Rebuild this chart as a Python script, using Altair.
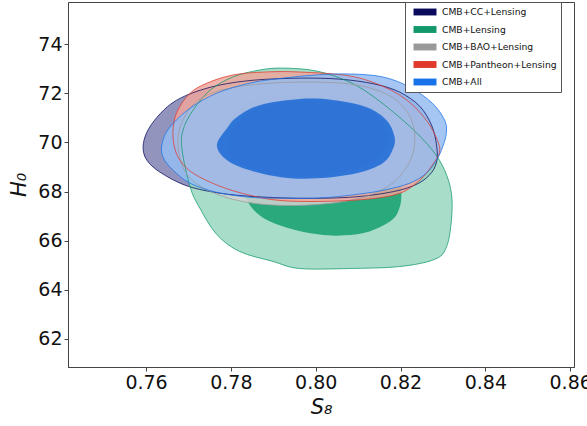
import altair as alt
import pandas as pd

# ---- contour vertices (S8, H0) for each data combination ----
cc_outer_s8 = [0.7593, 0.7602, 0.7626, 0.7661, 0.7708, 0.7774, 0.7856, 0.7962, 0.8056, 0.8139, 0.8198, 0.8245, 0.8273,
               0.8285, 0.8285, 0.8268, 0.8233, 0.8174, 0.8080, 0.7962, 0.7845, 0.7762, 0.7692, 0.7633, 0.7602]
cc_outer_h0 = [69.81, 70.42, 71.03, 71.60, 72.01, 72.34, 72.54, 72.62, 72.58, 72.38, 72.05, 71.48, 70.71,
               69.89, 69.20, 68.67, 68.26, 67.97, 67.77, 67.73, 67.81, 67.97, 68.26, 68.79, 69.28]
cc_inner_s8 = [0.7786, 0.7814, 0.7868, 0.7962, 0.8056, 0.8132, 0.8169, 0.8174, 0.8155, 0.8104, 0.8009, 0.7915, 0.7845, 0.7802]
cc_inner_h0 = [69.89, 70.91, 71.48, 71.73, 71.69, 71.32, 70.71, 70.01, 69.36, 68.87, 68.58, 68.58, 68.87, 69.28]

lens_outer_s8 = [0.7685, 0.7687, 0.7711, 0.7751, 0.7805, 0.7868, 0.7922, 0.8002, 0.8080, 0.8144, 0.8221, 0.8275, 0.8304,
                 0.8320, 0.8320, 0.8308, 0.8280, 0.8198, 0.8080, 0.7962, 0.7899, 0.7821, 0.7767, 0.7727, 0.7704]
lens_outer_h0 = [69.69, 70.50, 71.32, 72.13, 72.67, 72.95, 73.03, 72.91, 72.46, 71.77, 70.67, 69.69, 68.87,
                 67.93, 66.83, 65.73, 65.24, 64.95, 64.87, 64.87, 65.16, 65.56, 66.25, 67.32, 68.18]
lens_inner_s8 = [0.8202, 0.8198, 0.8174, 0.8115, 0.8009, 0.7915, 0.7856, 0.7833, 0.7828, 0.7838, 0.7875, 0.7939, 0.8009,
                 0.8068, 0.8127, 0.8179, 0.8198]
lens_inner_h0 = [68.05, 69.28, 70.30, 70.99, 71.24, 71.11, 70.58, 69.69, 68.46, 67.64, 66.95, 66.50, 66.25,
                 66.22, 66.38, 66.83, 67.36]

bao_outer_s8 = [0.7675, 0.7687, 0.7715, 0.7762, 0.7845, 0.7962, 0.8080, 0.8162, 0.8209, 0.8231, 0.8231, 0.8209, 0.8162,
                0.8080, 0.7962, 0.7856, 0.7774, 0.7715, 0.7685]
bao_outer_h0 = [70.09, 70.91, 71.60, 72.05, 72.34, 72.46, 72.38, 72.01, 71.40, 70.62, 69.69, 68.87, 68.13,
                67.64, 67.44, 67.52, 67.85, 68.38, 69.08]
bao_inner_s8 = [0.7779, 0.7802, 0.7856, 0.7962, 0.8056, 0.8127, 0.8169, 0.8181, 0.8169, 0.8127, 0.8033, 0.7939, 0.7856, 0.7802]
bao_inner_h0 = [70.09, 71.11, 71.73, 71.97, 71.89, 71.56, 70.99, 70.18, 69.44, 68.87, 68.54, 68.50, 68.75, 69.20]

pan_outer_s8 = [0.7664, 0.7675, 0.7704, 0.7744, 0.7805, 0.7880, 0.7962, 0.8080, 0.8162, 0.8221, 0.8264, 0.8287, 0.8292,
                0.8275, 0.8245, 0.8198, 0.8120, 0.8009, 0.7915, 0.7845, 0.7774, 0.7711, 0.7680, 0.7666]
pan_outer_h0 = [70.62, 71.32, 72.01, 72.42, 72.75, 72.87, 72.87, 72.71, 72.26, 71.64, 70.83, 70.09, 69.60,
                69.08, 68.46, 67.93, 67.69, 67.60, 67.64, 67.85, 68.22, 68.75, 69.28, 69.89]
pan_inner_s8 = [0.7793, 0.7821, 0.7873, 0.7962, 0.8056, 0.8127, 0.8162, 0.8169, 0.8151, 0.8099, 0.8009, 0.7918, 0.7849, 0.7809]
pan_inner_h0 = [69.89, 70.87, 71.44, 71.69, 71.64, 71.28, 70.67, 70.01, 69.40, 68.95, 68.66, 68.66, 68.95, 69.36]

all_outer_s8 = [0.7638, 0.7656, 0.7704, 0.7767, 0.7845, 0.7922, 0.8002, 0.8080, 0.8158, 0.8221, 0.8275, 0.8304, 0.8308,
                0.8299, 0.8285, 0.8261, 0.8221, 0.8158, 0.8080, 0.8002, 0.7922, 0.7845, 0.7767, 0.7704, 0.7664, 0.7640]
all_outer_h0 = [69.97, 70.62, 71.40, 72.01, 72.42, 72.62, 72.75, 72.79, 72.67, 72.26, 71.60, 70.91, 70.38,
                69.81, 69.28, 68.75, 68.34, 68.05, 67.85, 67.73, 67.73, 67.77, 67.97, 68.34, 68.87, 69.40]
all_inner_s8 = [0.7767, 0.7791, 0.7814, 0.7868, 0.7962, 0.8040, 0.8120, 0.8167, 0.8186, 0.8181, 0.8158, 0.8096, 0.8002,
                0.7922, 0.7845, 0.7791]
all_inner_h0 = [69.89, 70.58, 71.03, 71.52, 71.77, 71.73, 71.44, 70.91, 70.22, 69.69, 69.16, 68.75, 68.54,
                68.58, 68.87, 69.28]

names = ["CMB+CC+Lensing", "CMB+Lensing", "CMB+BAO+Lensing", "CMB+Pantheon+Lensing", "CMB+All"]
main_colors = ["#0b0b5e", "#12986b", "#999999", "#e0392b", "#1873e8"]
outer_fills = ["#7f81b2", "#98d7bf", "#d2d2d2", "#eea69c", "#95bcf0"]
inner_fills = ["#0b0b5e", "#13a06f", "#999999", "#e0392b", "#1c69d6"]

contours = [
    (cc_outer_s8, cc_outer_h0, cc_inner_s8, cc_inner_h0),
    (lens_outer_s8, lens_outer_h0, lens_inner_s8, lens_inner_h0),
    (bao_outer_s8, bao_outer_h0, bao_inner_s8, bao_inner_h0),
    (pan_outer_s8, pan_outer_h0, pan_inner_s8, pan_inner_h0),
    (all_outer_s8, all_outer_h0, all_inner_s8, all_inner_h0),
]

rows = []
for i, (name, (os8, oh0, is8, ih0)) in enumerate(zip(names, contours)):
    for level, s8s, h0s, fill in (("a_outer", os8, oh0, outer_fills[i]), ("b_inner", is8, ih0, inner_fills[i])):
        key = f"{i:02d}_{level}"
        for j, (s, h) in enumerate(zip(s8s, h0s)):
            rows.append({"key": key, "dataset": name, "level": level, "idx": j,
                         "S8": s, "H0": h, "fill": fill, "edge": main_colors[i]})
df = pd.DataFrame(rows)

x_scale = alt.Scale(domain=[0.7416, 0.8609], nice=False, zero=False)
y_scale = alt.Scale(domain=[60.86, 75.72], nice=False, zero=False)

x_enc = alt.X("S8:Q", scale=x_scale, title="S₈",
              axis=alt.Axis(values=[0.76, 0.78, 0.80, 0.82, 0.84, 0.86], format=".2f"))
y_enc = alt.Y("H0:Q", scale=y_scale, title="H₀",
              axis=alt.Axis(values=[62, 64, 66, 68, 70, 72, 74], format="d"))

# filled 1-sigma / 2-sigma regions, drawn in legend order
fills = alt.Chart(df).mark_line(interpolate="cardinal-closed", fillOpacity=0.85, strokeWidth=0).encode(
    x=x_enc, y=y_enc,
    fill=alt.Fill("fill:N", scale=None),
    detail="key:N",
    order="idx:Q",
)

# thin outlines of the 2-sigma regions
outlines = alt.Chart(df[df["level"] == "a_outer"]).mark_line(
    interpolate="cardinal-closed", strokeWidth=1, strokeOpacity=0.75).encode(
    x=x_enc, y=y_enc,
    stroke=alt.Stroke("edge:N", scale=None),
    detail="key:N",
    order="idx:Q",
)

legend_df = pd.DataFrame({"dataset": names})
legend_layer = alt.Chart(legend_df).mark_point(opacity=0, filled=True).encode(
    color=alt.Color("dataset:N", sort=names,
                    scale=alt.Scale(domain=names, range=main_colors),
                    legend=alt.Legend(
                        title=None, orient="none", legendX=337, legendY=0,
                        symbolType="M-2,-0.6H2V0.6H-2Z", symbolSize=132,
                        symbolOpacity=1, symbolStrokeWidth=0, symbolOffset=10,
                        labelFont="DejaVu Sans", labelFontSize=9.2, labelColor="#111",
                        labelOffset=11, rowPadding=5.5, padding=4,
                        strokeColor="#555", fillColor="white",
                    ))
)

chart = alt.layer(fills, outlines, legend_layer).properties(
    width=506, height=365,
    autosize=alt.AutoSizeParams(type="none"),
    padding={"left": 68, "top": 2, "right": 13, "bottom": 59},
).configure_view(stroke="#444", strokeWidth=1).configure_axis(
    grid=False, domainColor="#444", tickColor="#444", tickSize=4,
    labelFont="DejaVu Sans", labelFontSize=19, labelColor="#111", labelPadding=2,
    titleFont="DejaVu Sans", titleFontSize=21, titleFontStyle="italic", titleFontWeight="normal",
    titleColor="#111",
).configure_axisX(titlePadding=4).configure_axisY(titlePadding=8)

chart.save("out.html", embed_options={"renderer": "svg", "actions": False})
